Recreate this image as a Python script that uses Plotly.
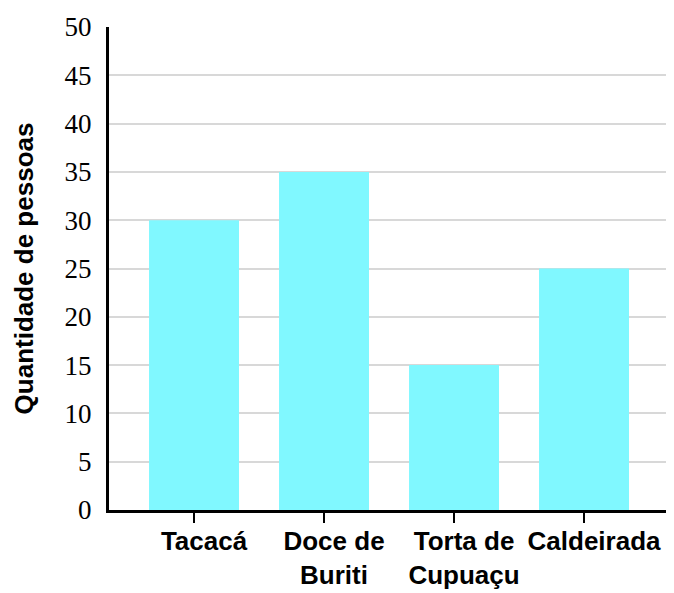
import plotly.graph_objects as go

categories = ["Tacacá", "Doce de<br>Buriti", "Torta de<br>Cupuaçu", "Caldeirada"]
values = [30, 35, 15, 25]
y_ticks = [0, 5, 10, 15, 20, 25, 30, 35, 40, 45, 50]

fig = go.Figure(go.Bar(
    x=list(range(len(categories))), y=values,
    marker=dict(color="#80F8FF", line=dict(width=0)),
    width=0.692,
))

# the page body has an 8px default margin, so offsets compensate for it
fig.update_layout(
    width=674, height=593,
    margin=dict(l=101, r=14, t=19, b=91),
    plot_bgcolor="white", paper_bgcolor="white",
    showlegend=False,
)
fig.update_xaxes(
    range=[-0.654, 3.646], automargin=False,
    tickmode="array", tickvals=list(range(len(categories))), ticktext=categories,
    ticks="outside", ticklen=10, tickwidth=2, tickcolor="black",
    showline=True, linecolor="black", linewidth=3,
    showgrid=False, zeroline=False,
    tickfont=dict(family="Liberation Sans", size=26, color="black", weight="bold"),
    ticklabelshift=10, ticklabelstandoff=-4,
)
fig.update_yaxes(
    range=[0, 50], automargin=False,
    tickmode="array", tickvals=y_ticks,
    showline=True, linecolor="black", linewidth=3,
    showgrid=True, gridcolor="#d8d8d8", gridwidth=2,
    zeroline=False, ticks="",
    tickfont=dict(family="Liberation Serif", size=27, color="black"),
    ticklabelstandoff=9,
    title=dict(text="Quantidade de pessoas",
               font=dict(family="Liberation Sans", size=26, color="black", weight="bold"),
               standoff=24),
)

fig.write_html("out.html")
